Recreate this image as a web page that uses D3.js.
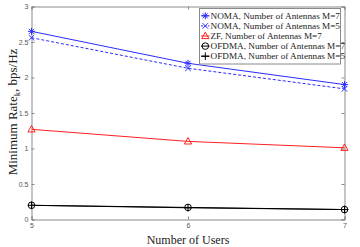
<!DOCTYPE html>
<html>
<head>
<meta charset="utf-8">
<script src="https://cdn.jsdelivr.net/npm/d3@7"></script>
<style>
body{margin:0;background:#fff;}
</style>
</head>
<body>
<svg id="chart" width="360" height="247"></svg>
<script>
var width = 360,
    height = 247;

var users = [5, 6, 7];
var nomaM7 = [2.65, 2.20, 1.90];
var nomaM5 = [2.56, 2.13, 1.84];
var zfM7 = [1.27, 1.10, 1.01];
var ofdmaM7 = [0.20, 0.17, 0.14];
var ofdmaM5 = [0.20, 0.165, 0.14];
var yTicks = [0, 0.5, 1, 1.5, 2, 2.5, 3];
var legendNames = ['NOMA, Number of Antennas M=7','NOMA, Number of Antennas M=5','ZF, Number of Antennas M=7','OFDMA, Number of Antennas M=7','OFDMA, Number of Antennas M=5'];

var series = [
  {name: legendNames[0], values: nomaM7, color: '#2b2bff', dash: null, marker: 'star'},
  {name: legendNames[1], values: nomaM5, color: '#2b2bff', dash: '3,2', marker: 'x'},
  {name: legendNames[2], values: zfM7, color: '#ff2020', dash: null, marker: 'tri'},
  {name: legendNames[3], values: ofdmaM7, color: '#000', dash: null, marker: 'circ'},
  {name: legendNames[4], values: ofdmaM5, color: '#000', dash: null, marker: 'plus'}
];

var margin = {left: 31.5, right: 15.5, top: 6.5, bottom: 27.5};

var x = d3.scaleLinear().domain([5, 7]).range([margin.left, width - margin.right]);
var y = d3.scaleLinear().domain([0, 3]).range([height - margin.bottom, margin.top]);

var svg = d3.select('#chart');

// axes box, MATLAB style
var axisColor = '#8a8a8a';
svg.append('g')
  .attr('transform', 'translate(0,' + y(0) + ')')
  .call(d3.axisBottom(x).tickValues(users).tickSize(-3).tickPadding(4).tickFormat(d3.format('d')))
  .call(function(g){
    g.select('.domain').attr('stroke', axisColor);
    g.selectAll('line').attr('stroke', axisColor);
    g.selectAll('text').attr('fill', '#555').style('font', '7px Arial, sans-serif');
  });
svg.append('g')
  .attr('transform', 'translate(' + x(5) + ',0)')
  .call(d3.axisLeft(y).tickValues(yTicks).tickSize(-3).tickPadding(3).tickFormat(d3.format('')))
  .call(function(g){
    g.select('.domain').attr('stroke', axisColor);
    g.selectAll('line').attr('stroke', axisColor);
    g.selectAll('text').attr('fill', '#555').style('font', '7px Arial, sans-serif');
  });
svg.append('g')
  .attr('transform', 'translate(0,' + y(3) + ')')
  .call(d3.axisTop(x).tickValues(users).tickSize(-3).tickFormat(''))
  .call(function(g){
    g.select('.domain').attr('stroke', axisColor);
    g.selectAll('line').attr('stroke', axisColor);
  });
svg.append('g')
  .attr('transform', 'translate(' + x(7) + ',0)')
  .call(d3.axisRight(y).tickValues(yTicks).tickSize(-3).tickFormat(''))
  .call(function(g){
    g.select('.domain').attr('stroke', axisColor);
    g.selectAll('line').attr('stroke', axisColor);
  });

var line = d3.line()
  .x(function(d, i){ return x(users[i]); })
  .y(function(d){ return y(d); });

function drawMarker(g, type, color) {
  if (type == 'star') {
    g.append('path').attr('d', 'M-3.5,0H3.5M0,-3.5V3.5M-2.5,-2.5L2.5,2.5M-2.5,2.5L2.5,-2.5').attr('stroke', color).attr('stroke-width', 1);
  } else if (type == 'x') {
    g.append('path').attr('d', 'M-2.8,-2.8L2.8,2.8M-2.8,2.8L2.8,-2.8').attr('stroke', color).attr('stroke-width', 1);
  } else if (type == 'tri') {
    g.append('path').attr('d', 'M0,-3.8L3.6,2.6H-3.6Z').attr('stroke', color).attr('fill', 'none').attr('stroke-width', 1);
  } else if (type == 'circ') {
    g.append('circle').attr('r', 3.3).attr('stroke', color).attr('fill', 'none').attr('stroke-width', 1);
  } else if (type == 'plus') {
    g.append('path').attr('d', 'M-3.8,0H3.8M0,-3.8V3.8').attr('stroke', color).attr('stroke-width', 1);
  }
}

series.forEach(function(s){
  svg.append('path')
    .datum(s.values)
    .attr('d', line)
    .attr('fill', 'none')
    .attr('stroke', s.color)
    .attr('stroke-width', 1)
    .attr('stroke-dasharray', s.dash);
  s.values.forEach(function(v, i){
    var g = svg.append('g').attr('transform', 'translate(' + x(users[i]) + ',' + y(v) + ')');
    drawMarker(g, s.marker, s.color);
  });
});

// legend
var legend = svg.append('g').attr('transform', 'translate(199.5,8.5)');
legend.append('rect')
  .attr('width', 141).attr('height', 55.5)
  .attr('fill', '#fff').attr('stroke', axisColor).attr('stroke-width', 1);
series.forEach(function(s, i){
  var ly = 7.3 + i * 10.1;
  legend.append('line')
    .attr('x1', 1.5).attr('x2', 10).attr('y1', ly).attr('y2', ly)
    .attr('stroke', s.color).attr('stroke-width', 1)
    .attr('stroke-dasharray', s.dash ? '2,1.5' : null);
  drawMarker(legend.append('g').attr('transform', 'translate(5.8,' + ly + ')'), s.marker, s.color);
  legend.append('text')
    .attr('x', 11).attr('y', ly + 3)
    .style('font', '9.2px "Liberation Serif", "Times New Roman", serif')
    .attr('fill', '#222')
    .text(s.name);
});

// axis labels
svg.append('text')
  .attr('x', x(6)).attr('y', 244)
  .attr('text-anchor', 'middle')
  .style('font', '12px "Liberation Serif", "Times New Roman", serif')
  .attr('fill', '#222')
  .text('Number of Users');

var yl = svg.append('text')
  .attr('transform', 'translate(17,112) rotate(-90)')
  .attr('text-anchor', 'middle')
  .style('font', '13px "Liberation Serif", "Times New Roman", serif')
  .attr('fill', '#222');
yl.append('tspan').text('Minimum Rate');
yl.append('tspan').attr('dy', 3).style('font-size', '8.5px').text('k');
yl.append('tspan').attr('dy', -3).text(', bps/Hz');
</script>
</body>
</html>
